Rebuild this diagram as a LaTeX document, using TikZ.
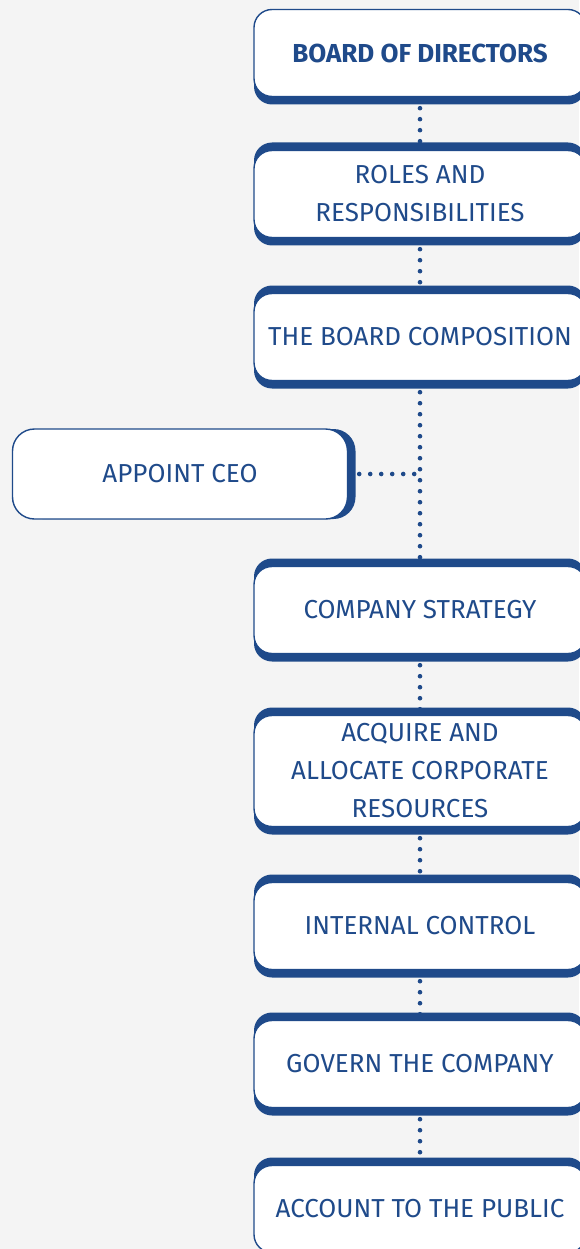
\documentclass[tikz,border=0pt]{standalone}
\usepackage{fontspec}
\setmainfont{Fira Sans}
\usepackage{tikz}
\usetikzlibrary{shadows,backgrounds}
\definecolor{boardblue}{RGB}{31,74,138}
\definecolor{pagegray}{RGB}{244,244,244}

\begin{document}
\begin{tikzpicture}[x=1pt,y=-1pt,
    box/.style={draw=boardblue, line width=1.4pt, fill=white, rounded corners=18pt,
      minimum width=332pt, minimum height=87pt, inner sep=0pt, text=boardblue,
      align=center, font=\fontsize{26}{38}\selectfont},
    shade below/.style={drop shadow={shadow xshift=0pt, shadow yshift=-8pt, opacity=1, fill=boardblue}},
    shade above/.style={drop shadow={shadow xshift=0pt, shadow yshift=8pt, opacity=1, fill=boardblue}},
    shade right/.style={drop shadow={shadow xshift=8pt, shadow yshift=0pt, opacity=1, fill=boardblue}},
    dots/.style={draw=boardblue, line width=4.6pt, line cap=round, dash pattern=on 0pt off 11pt}]
    \useasboundingbox (0,0) rectangle (579,1249);

    % page
    \begin{pgfonlayer}{background}
      \fill[pagegray] (0,0) rectangle (579,1249);
    \end{pgfonlayer}

    % main column
    \node[box, shade below, font=\fontsize{26}{38}\selectfont\bfseries] (board) at (420,53) {BOARD OF DIRECTORS};
    \node[box, shade above, shade below] (roles) at (420,194) {ROLES AND\\RESPONSIBILITIES};
    \node[box, shade above, shade below] (comp) at (420,337) {THE BOARD COMPOSITION};
    \node[box, shade above, shade below] (strategy) at (420,610) {COMPANY STRATEGY};
    \node[box, shade above, shade below, minimum height=111pt] (acquire) at (420,771) {ACQUIRE AND\\ALLOCATE CORPORATE\\RESOURCES};
    \node[box, shade above, shade below] (control) at (420,926) {INTERNAL CONTROL};
    \node[box, shade above, shade below] (govern) at (420,1064) {GOVERN THE COMPANY};
    \node[box, shade above] (public) at (420,1209) {ACCOUNT TO THE PUBLIC};

    % side box
    \node[box, shade right, minimum width=335pt, minimum height=90pt, rounded corners=22pt] (ceo) at (180,474) {APPOINT CEO};

    % dotted links
    \begin{pgfonlayer}{background}
      \draw[dots] (board.south) -- (roles.north);
      \draw[dots] (roles.south) -- (comp.north);
      \draw[dots] (comp.south) -- (strategy.north);
      \draw[dots] (ceo.east) -- (comp.south |- ceo.east);
      \draw[dots] (strategy.south) -- (acquire.north);
      \draw[dots] (acquire.south) -- (control.north);
      \draw[dots] (control.south) -- (govern.north);
      \draw[dots] (govern.south) -- (public.north);
    \end{pgfonlayer}
\end{tikzpicture}
\end{document}
